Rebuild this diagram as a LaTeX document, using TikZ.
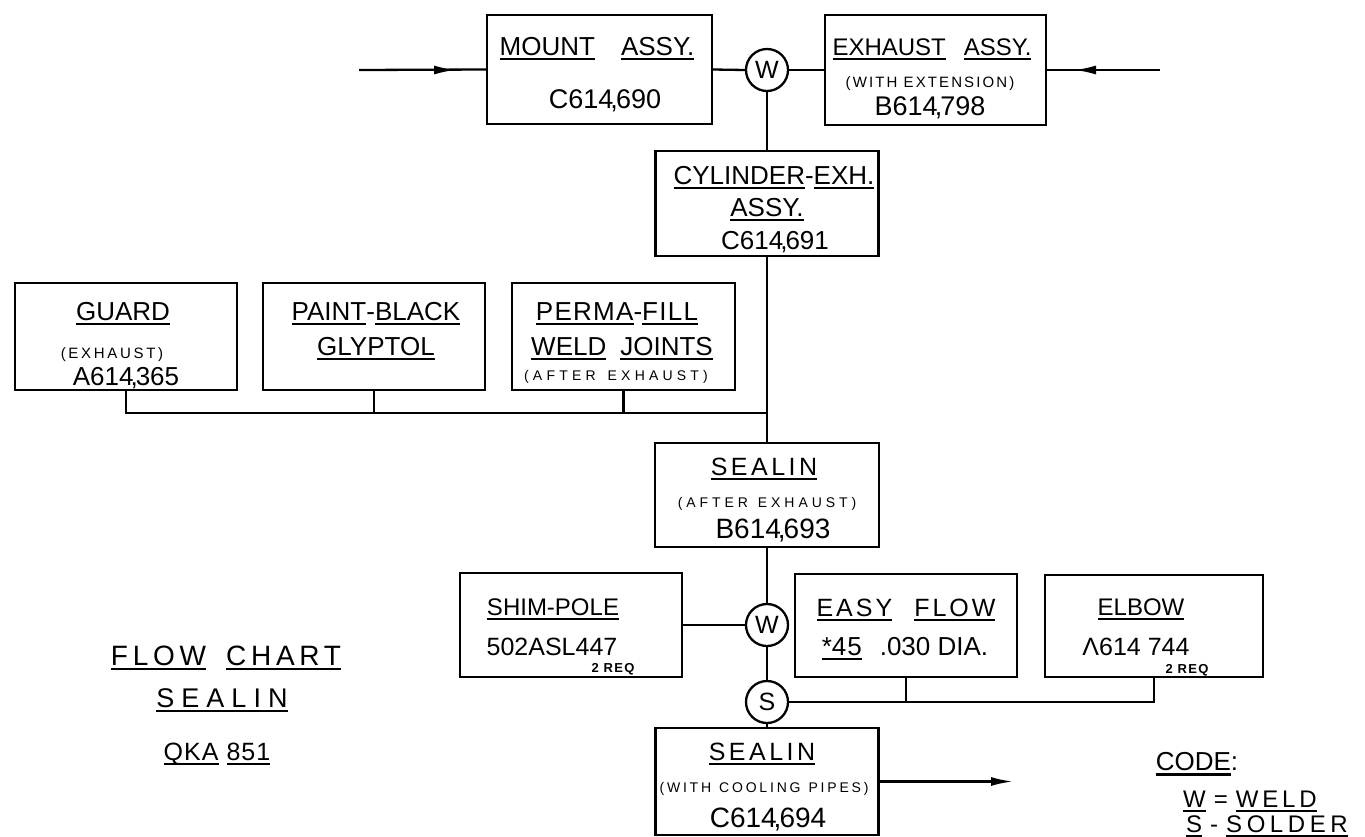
\documentclass[tikz,border=0pt]{standalone}
\usepackage{fontspec}
\usepackage{graphicx}
\setmainfont{Liberation Sans}
\usetikzlibrary{arrows.meta}
\newcommand\ul[1]{\setbox0=\hbox{#1}\rlap{\vrule height -2.5pt depth 4.5pt width \wd0}\box0\relax}
\newcommand\ulk[1]{\setbox0=\hbox{#1}\rlap{\vrule height -3pt depth 6pt width \wd0}\box0\relax}
\newcommand\fs[2]{\fontsize{#1}{#1}\selectfont\addfontfeature{LetterSpace=#2}}
\tikzset{
  box/.style={draw, line width=2.3pt, inner sep=0pt},
  txt/.style={anchor=base, inner sep=0pt},
  txtw/.style={anchor=base west, inner sep=0pt},
  joint/.style={circle, draw, line width=2.3pt, minimum size=42pt, inner sep=0pt, font=\fs{25}{0}},
  conn/.style={line width=2.3pt},
  arr/.style={line width=2.3pt, -{Latex[length=22pt,width=9pt]}}
}
\begin{document}
\begin{tikzpicture}[x=1pt,y=-1pt]
\useasboundingbox (0,0) rectangle (1365,836);
\fill[white] (0,0) rectangle (1365,836);

% boxes
\node[box, minimum width=225pt, minimum height=109pt] (mount) at (599.5,69.5) {};
\node[box, minimum width=221pt, minimum height=110pt] (exh) at (935.5,70) {};
\node[joint] (W1) at (767,70) {W};
\node[box, minimum width=223pt, minimum height=105pt] (cyl) at (767,203.5) {};
\node[box, minimum width=222pt, minimum height=107pt] (guard) at (126,336.5) {};
\node[box, minimum width=222pt, minimum height=107pt] (paint) at (374,336.5) {};
\node[box, minimum width=223pt, minimum height=107pt] (perma) at (623.5,336.5) {};
\node[box, minimum width=224pt, minimum height=104pt] (seal1) at (767,495) {};
\node[box, minimum width=222pt, minimum height=104pt] (shim) at (571,625) {};
\node[joint] (W2) at (767,625) {W};
\node[box, minimum width=222pt, minimum height=103pt] (easy) at (906,625.5) {};
\node[box, minimum width=218pt, minimum height=102pt] (elbow) at (1154,626) {};
\node[joint] (S) at (767,702) {S};
\node[box, minimum width=223pt, minimum height=107pt] (seal2) at (767,781.5) {};

% texts: mount
\node[txt, font=\fs{26}{0}] (mountA) at (597,55) {\ul{MOUNT}\hspace{26pt}\ul{ASSY.}};
\node[txt, font=\fs{27}{0}] (mountB) at (605,108) {C614\kern-3pt,\kern-2pt690};
% exhaust
\node[txt, font=\fs{24}{0}] (exhA) at (932,55) {\ul{EXHAUST}\hspace{18pt}\ul{ASSY.}};
\node[txt, font=\fs{15}{14}] (exhB) at (930,87) {(WITH EXTENSION)};
\node[txt, font=\fs{27}{0}] (exhC) at (930,115) {B614\kern-3pt,\kern-2pt798};
% cylinder
\node[txt, font=\fs{26}{0}] (cylA) at (774,184) {\ul{CYLINDER}-\ul{EXH.}};
\node[txt, font=\fs{26}{0}] (cylB) at (767,216) {\ul{ASSY.}};
\node[txt, font=\fs{26}{0}] (cylC) at (775,249) {C614\kern-3pt,\kern-2pt691};
% guard
\node[txt, font=\fs{15}{18}] (guardB) at (112,358) {(EXHAUST)};
\node[txt, font=\fs{26}{0}] (guardA) at (123,320) {\ul{GUARD}};
\node[txt, font=\fs{26}{0}] (guardC) at (126,385) {A614\kern-3pt,\kern-2pt365};
% paint
\node[txt, font=\fs{26}{0}] (paintA) at (376,320) {\ul{PAINT}-\ul{BLACK}};
\node[txt, font=\fs{26}{0}] (paintB) at (376,355) {\ul{GLYPTOL}};
% perma
\node[txt, font=\fs{26}{5}] (permaA) at (617,320) {\ul{PERMA}-\ul{FILL}};
\node[txt, font=\fs{26}{0}] (permaB) at (622,355) {\ul{WELD}\hspace{14pt}\ul{JOINTS}};
\node[txt, font=\fs{14}{30}] (permaC) at (616,380) {(AFTER\hspace{12pt}EXHAUST)};
% sealin 1
\node[txt, font=\fs{25}{14}] (seal1A) at (764,475) {\ul{SEALIN}};
\node[txt, font=\fs{14}{28}] (seal1B) at (767,507) {(AFTER\hspace{10pt}EXHAUST)};
\node[txt, font=\fs{28}{0}] (seal1C) at (773,538) {B614\kern-3pt,\kern-2pt693};
% shim
\node[txt, font=\fs{24}{0}] (shimA) at (553,615) {\ul{SHIM-POLE}};
\node[txt, font=\fs{25}{0}] (shimB) at (552,655) {502ASL447};
\node[txt, font=\fs{13}{10}\bfseries] (shimC) at (613,672) {2 REQ};
% easy flow
\node[txt, font=\fs{25}{12}] (easyA) at (906,616) {\ul{EASY}\hspace{22pt}\ul{FLOW}};
\node[txt, font=\fs{26}{0}] (easyB) at (905,655) {\ul{*4\kern1pt5}\hspace{18pt}.030 DIA.};
% elbow
\node[txt, font=\fs{24}{0}] (elbowA) at (1141,615) {\ul{ELBOW}};
\node[txt, font=\fs{25}{0}] (elbowB) at (1136,655) {Λ614 744};
\node[txt, font=\fs{13}{10}\bfseries] (elbowC) at (1187,673) {2 REQ};
% sealin 2
\node[txt, font=\fs{25}{14}] (seal2A) at (762,760) {\ul{SEALIN}};
\node[txt, font=\fs{14}{20}] (seal2B) at (764,792) {(WITH\hspace{8pt}COOLING\hspace{8pt}PIPES)};
\node[txt, font=\fs{28}{0}] (seal2C) at (768,827) {C614\kern-3pt,\kern-2pt694};
% title
\node[txt, font=\fs{28}{17}] (titleA) at (226,665) {\ul{FLOW}\hspace{20pt}\ul{CHART}};
\node[txt, font=\fs{27}{26}] (titleB) at (222,707) {\ul{SEALIN}};
\node[txt, font=\fs{25}{4}] (titleC) at (217,760) {\ul{QKA}\hspace{8pt}\ul{851}};
% code
\node[txt, font=\fs{26}{0}] (codeA) at (1197,770) {\ulk{CODE}:};
\node[txtw, font=\fs{24}{0}] (codeB) at (1183,807) {\ul{W}\hspace{8pt}=\hspace{8pt}\addfontfeature{LetterSpace=16}\ul{WELD}};
\node[txtw, font=\fs{24}{0}] (codeC) at (1186,832) {\ul{S}\hspace{8pt}-\hspace{8pt}\addfontfeature{LetterSpace=19}\ul{SOLDER}};

% coordinates
\coordinate (inL) at (359,70);
\coordinate (inLtip) at (456,70);
\coordinate (inR) at (1160,70);
\coordinate (inRtip) at (1074,70);
\coordinate (outtip) at (1013,781.5);
\coordinate (busG) at (767,413);

% connectors
\draw[conn] (inL) -- (mount.west);
\draw[arr] (inL) -- (inLtip);
\draw[conn] (inR) -- (exh.east);
\draw[arr] (inR) -- (inRtip);
\draw[conn] (mount.east) -- (W1.west);
\draw[conn] (W1.east) -- (exh.west);
\draw[conn] (W1.south) -- (cyl.north);
\draw[conn] (cyl.south) -- (seal1.north);
\draw[conn] (guard.south) |- (busG);
\draw[conn] (paint.south) -- (paint.south |- busG);
\draw[conn] (perma.south) -- (perma.south |- busG);
\draw[conn] (seal1.south) -- (W2.north);
\draw[conn] (shim.east) -- (W2.west);
\draw[conn] (W2.south) -- (S.north);
\draw[conn] (S.south) -- (seal2.north);
\draw[conn] (S.east) -| (elbow.south);
\draw[conn] (easy.south) -- (easy.south |- S.east);
\draw[arr] (seal2.east) -- (outtip);
\end{tikzpicture}
\end{document}
